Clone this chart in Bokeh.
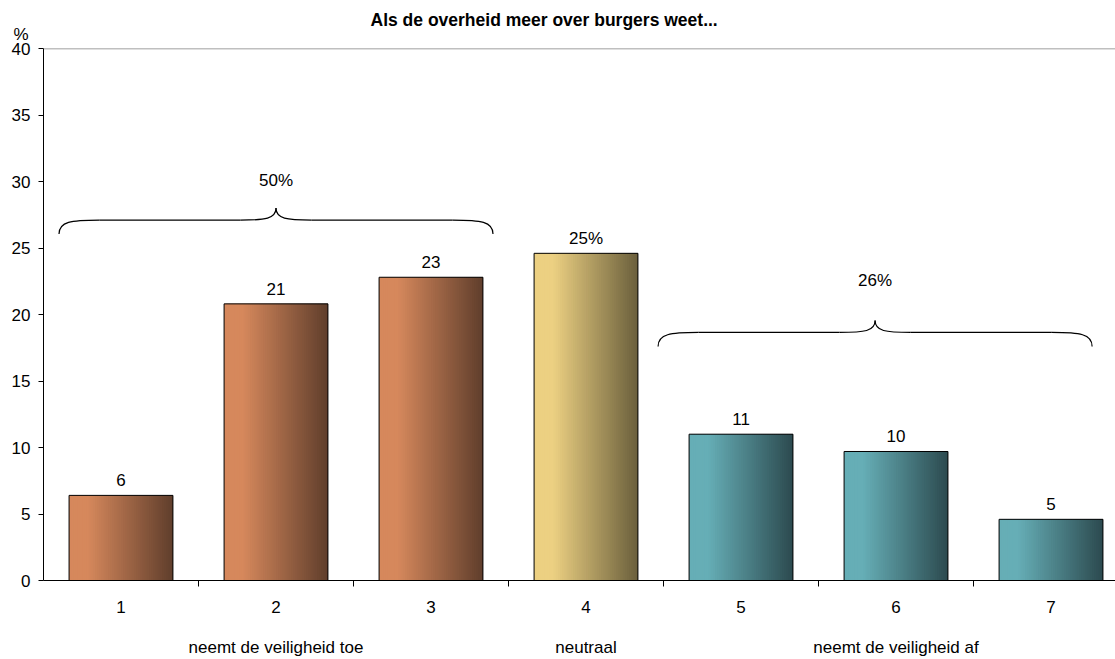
from bokeh.plotting import figure
from bokeh.models import FixedTicker, LinearAxis, Span, Title
from bokeh.core.properties import value
from bokeh.embed import file_html
from bokeh.resources import INLINE

# ---------------- data ----------------
categories = [1, 2, 3, 4, 5, 6, 7]
values = [6.4, 20.8, 22.8, 24.6, 11.0, 9.7, 4.6]
value_labels = ["6", "21", "23", "25%", "11", "10", "5"]
groups = ["toe", "toe", "toe", "neutraal", "af", "af", "af"]
group_names = ["neemt de veiligheid toe", "neutraal", "neemt de veiligheid af"]
group_label_pos = [2, 4, 6]
brace_totals = ["50%", "26%"]
brace_centers = [2.0, 5.865]
brace_levels = [27.1, 18.65]
brace_text_levels = [30.1, 22.55]
y_ticks = [0, 5, 10, 15, 20, 25, 30, 35, 40]
title = "Als de overheid meer over burgers weet..."
y_unit = "%"

# ---------------- styles ----------------
FONT = "Liberation Sans"
palette = {
    "toe": ((214, 136, 92), (96, 62, 44)),
    "neutraal": ((236, 208, 130), (106, 95, 60)),
    "af": ((102, 174, 182), (44, 74, 79)),
}
BAR_W = 0.67
N_SLICES = 48

p = figure(width=1115, height=659, x_range=(0.5, 7.416), y_range=(0, 40),
           output_backend="svg", toolbar_location=None,
           min_border_left=43, min_border_right=0, min_border_top=48,
           min_border_bottom=79)
p.xgrid.visible = False
p.ygrid.visible = False
p.outline_line_color = None
p.background_fill_color = "white"
p.border_fill_color = "white"

p.title.text = title
p.title.text_font = FONT
p.title.text_font_size = "17.5px"
p.title.text_font_style = "bold"
p.title.text_color = "black"
p.title.align = "left"
p.title.offset = 327
p.title.standoff = -22

unit_title = Title(text=y_unit, align="left", offset=-30, standoff=9,
                   text_font=FONT, text_font_size="17px", text_font_style="normal",
                   text_color="black")
p.add_layout(unit_title, "above")

# gradient bars made of thin slices
def lerp(c0, c1, t):
    return "#%02x%02x%02x" % tuple(int(round(a + (b - a) * t)) for a, b in zip(c0, c1))

sx, stop, scol = [], [], []
for cat, v, g in zip(categories, values, groups):
    light, dark = palette[g]
    for i in range(N_SLICES):
        t = (i + 0.5) / N_SLICES
        tt = 0.0 if t < 0.18 else (t - 0.18) / 0.82
        sx.append(cat - BAR_W / 2 + t * BAR_W)
        stop.append(v)
        scol.append(lerp(light, dark, tt))
sw = BAR_W / N_SLICES
p.vbar(x=[x + sw * 0.5 if i % N_SLICES != N_SLICES - 1 else x for i, x in enumerate(sx)],
       top=stop, bottom=0,
       width=[sw * 2.0 if i % N_SLICES != N_SLICES - 1 else sw for i in range(len(sx))],
       fill_color=scol, line_color=None)
p.vbar(x=categories, top=values, bottom=0, width=BAR_W,
       fill_color=None, line_color="black", line_width=1)

# value labels
p.text(x=categories, y=values, text=value_labels, text_font=value(FONT),
       text_font_size="17px", text_align="center", text_baseline="middle",
       y_offset=-15, text_color="black")

# braces
HALF = 1.4
A = 0.26
B = 0.23
DROP = 1.05
RISE = 0.9
bx0, by0, bx1, by1, bcx0, bcy0, bcx1, bcy1 = [], [], [], [], [], [], [], []
lx0, ly0, lx1, ly1 = [], [], [], []
for c, yf in zip(brace_centers, brace_levels):
    left, right = c - HALF, c + HALF
    ye, yt = yf - DROP, yf + RISE
    for (x0, x1) in [(left, left + A), (right, right - A)]:
        bx0.append(x0); by0.append(ye); bx1.append(x1); by1.append(yf)
        bcx0.append(x0); bcy0.append(yf - DROP * 0.1)
        bcx1.append(x0 + (x1 - x0) * 0.3); bcy1.append(yf)
    for (x0, x1) in [(c - B, c), (c + B, c)]:
        bx0.append(x0); by0.append(yf); bx1.append(x1); by1.append(yt)
        bcx0.append(x0 + (x1 - x0) * 0.7); bcy0.append(yf)
        bcx1.append(x1); bcy1.append(yf + RISE * 0.1)
    lx0 += [left + A, c + B]; lx1 += [c - B, right - A]
    ly0 += [yf, yf]; ly1 += [yf, yf]
p.bezier(x0=bx0, y0=by0, x1=bx1, y1=by1, cx0=bcx0, cy0=bcy0, cx1=bcx1, cy1=bcy1,
         line_color="black", line_width=1.2)
p.segment(x0=lx0, y0=ly0, x1=lx1, y1=ly1, line_color="black", line_width=1.2)
p.text(x=brace_centers, y=brace_text_levels, text=brace_totals, text_font=value(FONT),
       text_font_size="17px", text_align="center", text_baseline="middle",
       text_color="black")

# top gray line
p.add_layout(Span(location=40, dimension="width", line_color="#808080", line_width=1.5))

# y axis
yax = p.yaxis[0]
yax.ticker = FixedTicker(ticks=y_ticks)
yax.major_tick_out = 5
yax.major_tick_in = 0
yax.minor_tick_line_color = None
yax.major_label_standoff = 8
yax.major_label_text_font = FONT
yax.major_label_text_font_size = "17px"
yax.major_label_text_color = "black"
yax.axis_line_color = "black"
yax.major_tick_line_color = "black"

# x axis (category numbers)
xax = p.xaxis[0]
xax.ticker = FixedTicker(ticks=categories,
                         minor_ticks=[c + 0.5 for c in categories[:-1]])
xax.major_tick_out = 0
xax.major_tick_in = 0
xax.minor_tick_out = 6
xax.minor_tick_in = 0
xax.minor_tick_line_color = "black"
xax.major_label_standoff = 14
xax.major_label_text_font = FONT
xax.major_label_text_font_size = "17px"
xax.major_label_text_color = "black"
xax.axis_line_color = "black"

# group labels axis
gax = LinearAxis(ticker=FixedTicker(ticks=group_label_pos),
                 major_label_overrides={k: n for k, n in zip(group_label_pos, group_names)})
gax.axis_line_color = None
gax.major_tick_line_color = None
gax.minor_tick_line_color = None
gax.major_label_standoff = 16
gax.major_label_text_font = FONT
gax.major_label_text_font_size = "17px"
gax.major_label_text_color = "black"
p.add_layout(gax, "below")

open("out.html", "w").write(file_html(p, INLINE))
